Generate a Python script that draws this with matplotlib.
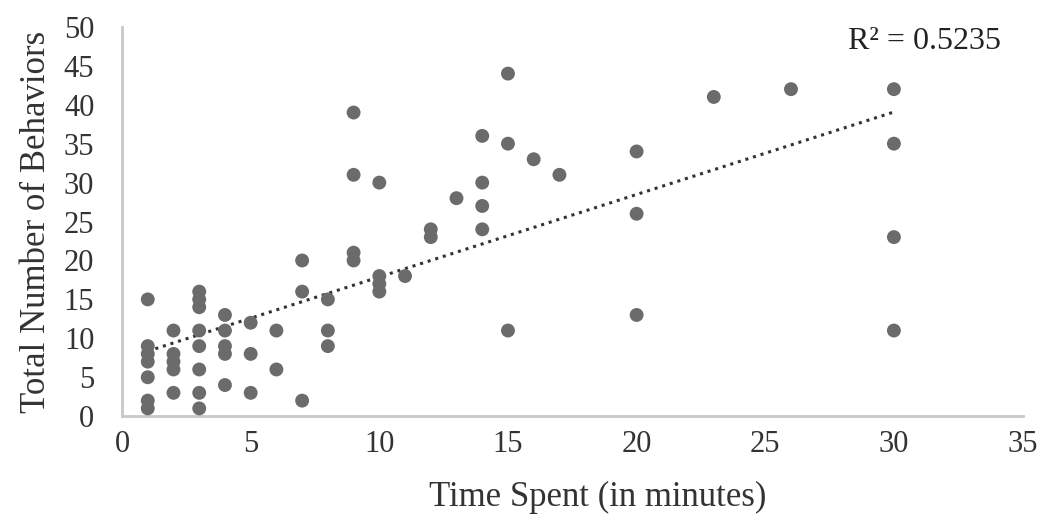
import matplotlib
matplotlib.use("Agg")
import matplotlib.pyplot as plt
import numpy as np

# minutes spent and total behaviors
time_spent = [1, 1, 1, 1, 1, 1, 1,
              2, 2, 2, 2, 2,
              3, 3, 3, 3, 3, 3, 3, 3,
              4, 4, 4, 4, 4,
              5, 5, 5,
              6, 6,
              7, 7, 7,
              8, 8, 8,
              9, 9, 9, 9,
              10, 10, 10, 10,
              11,
              12, 12,
              13,
              14, 14, 14, 14,
              15, 15, 15,
              16,
              17,
              20, 20, 20,
              23,
              26,
              30, 30, 30, 30]
behaviors = [15, 9, 8, 7, 5, 2, 1,
             11, 8, 7, 6, 3,
             16, 15, 14, 11, 9, 6, 3, 1,
             13, 11, 9, 8, 4,
             12, 8, 3,
             11, 6,
             20, 16, 2,
             15, 11, 9,
             39, 31, 21, 20,
             30, 18, 17, 16,
             18,
             24, 23,
             28,
             36, 30, 27, 24,
             44, 35, 11,
             33,
             31,
             34, 26, 13,
             41,
             42,
             42, 35, 23, 11]

x_ticks = [0, 5, 10, 15, 20, 25, 30, 35]
y_ticks = [0, 5, 10, 15, 20, 25, 30, 35, 40, 45, 50]
r2_label = "R\u00b2 = 0.5235"

plt.rcParams['font.family'] = ['Liberation Serif', 'DejaVu Serif']

fig = plt.figure(figsize=(10.52, 5.17), dpi=100)
ax = fig.add_axes([0.116, 0.195, 0.856, 0.753])

ax.scatter(time_spent, behaviors, s=100, color='#6b6b6b', edgecolors='none', zorder=3)

# linear trendline
xs = np.array(time_spent, dtype=float)
ys = np.array(behaviors, dtype=float)
slope, intercept = np.polyfit(xs, ys, 1)
line_x = np.array([xs.min(), xs.max()])
ax.plot(line_x, slope * line_x + intercept, linestyle=(0, (1, 1.6)), color='#333333',
        linewidth=2.2, zorder=2)

ax.text(0.976, 1.0, r2_label, transform=ax.transAxes, ha='right', va='top', fontsize=23,
        color='#222222')

ax.set_xlim(0, 35)
ax.set_ylim(0, 50)
ax.set_xticks(x_ticks)
ax.set_yticks(y_ticks)
ax.tick_params(length=0, labelsize=22, colors='#333333')
ax.tick_params(axis='x', pad=10)
ax.tick_params(axis='y', pad=20)

for side in ['top', 'right']:
    ax.spines[side].set_visible(False)
for side in ['left', 'bottom']:
    ax.spines[side].set_color('#c8c8c8')
    ax.spines[side].set_linewidth(2)

ax.set_xlabel('Time Spent (in minutes)', fontsize=25, color='#333333', labelpad=16)
ax.xaxis.label.set_x(0.528)
ax.set_ylabel('Total Number of Behaviors', fontsize=25, color='#333333', labelpad=8)

fig.savefig('out.png', dpi=100)
